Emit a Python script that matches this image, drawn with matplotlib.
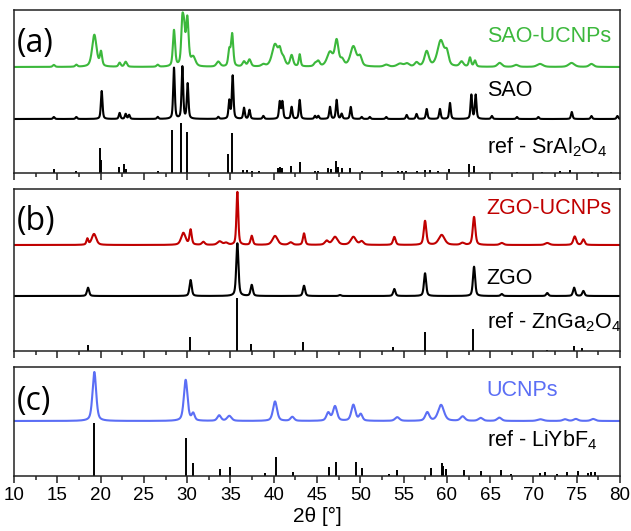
import numpy as np
import matplotlib.pyplot as plt
from matplotlib.ticker import MultipleLocator

plt.rcParams['font.family'] = ['Liberation Sans', 'DejaVu Sans']
plt.rcParams['mathtext.default'] = 'regular'

# ---- panel (a): SrAl2O4 ----
sao_ucnp_pos = [14.6, 17.2, 19.28, 20.05, 22.2, 22.9, 26.6, 28.48, 29.44, 29.64, 30.02, 30.7,
                33.6, 34.87, 35.2, 36.57, 37.2, 38.8, 40.15, 40.7, 41.1, 42.07, 43.0, 44.8,
                45.15, 46.5, 47.27, 47.9, 49.2, 49.97, 53.0, 54.6, 55.4, 56.5, 57.67, 59.3,
                60.0, 61.7, 62.67, 63.25, 66.1, 68.0, 70.76, 74.4, 76.7]
sao_ucnp_int = [2, 2, 32, 14, 4, 5, 2, 36, 40, 30, 47, 9,
                5, 16, 32, 5, 7, 2, 22, 12, 8, 11, 12, 3,
                5, 14, 25, 6, 20, 9, 2, 3, 3, 4, 15, 26,
                12, 5, 9, 6, 4, 2, 3, 4, 3]
sao_ucnp_fwhm = [0.3, 0.3, 0.6, 0.3, 0.3, 0.35, 0.3, 0.3, 0.3, 0.3, 0.35, 0.6,
                 0.5, 0.3, 0.3, 0.4, 0.4, 0.5, 0.8, 0.4, 0.5, 0.4, 0.25, 0.4,
                 0.4, 0.8, 0.5, 0.5, 0.8, 0.5, 0.6, 0.8, 0.6, 0.5, 0.6, 0.9,
                 0.5, 0.5, 0.3, 0.3, 0.6, 0.6, 0.8, 0.8, 0.6]

sao_pos = [14.6, 17.2, 20.13, 22.2, 22.9, 23.3, 26.6, 28.48, 29.45, 30.06, 33.6, 34.87,
           35.26, 36.57, 37.2, 38.8, 40.7, 41.0, 42.07, 43.0, 44.77, 45.15, 46.5, 47.27,
           47.85, 48.9, 50.16, 51.1, 53.0, 55.36, 56.5, 57.67, 59.2, 60.36, 62.83, 63.33,
           65.2, 68.1, 70.57, 74.43, 76.7, 79.7]
sao_int = [2, 2, 28, 6, 5, 4, 2, 51, 52, 35, 2, 18,
           43, 11, 9, 3, 17, 17, 12, 19, 3, 3, 12, 19,
           5, 12, 2, 2, 2, 4, 5, 10, 10, 16, 24, 24,
           3, 2, 2, 7, 3, 3]
sao_fwhm = 0.22

sral_pos = [14.6, 17.2, 19.93, 20.1, 22.13, 22.75, 22.9, 26.6, 28.29, 29.29, 29.95, 34.76,
            35.15, 36.5, 36.9, 37.5, 38.3, 40.5, 40.7, 40.85, 41.0, 42.0, 43.0, 44.77,
            45.1, 46.3, 46.6, 47.2, 47.4, 47.85, 48.8, 50.2, 52.5, 54.3, 54.8, 55.3,
            56.5, 57.5, 58.0, 59.0, 60.2, 62.6, 63.1, 65.2, 68.1, 71.0, 73.07, 74.2,
            76.8, 79.0]
sral_int = [3.7, 2.3, 25, 13, 6.3, 9, 4, 2, 43.5, 50, 41, 18.7,
            39.7, 3.5, 3.5, 2, 2, 5, 6, 4, 5, 7, 10.7, 2,
            2, 5, 4.3, 12, 6, 5, 5, 2, 2, 2, 2, 2,
            2, 3.5, 3, 2.5, 4, 8.7, 7, 1.5, 1.5, 1.5, 2, 3,
            1.5, 1.5]

# ---- panel (b): ZnGa2O4 ----
zgo_ucnp_pos = [18.47, 19.24, 29.56, 30.4, 31.87, 33.76, 34.5, 35.8, 37.46, 40.15, 41.96, 43.5,
                46.12, 47.08, 49.2, 50.16, 53.93, 57.48, 59.4, 61.8, 63.14, 66.34, 71.6, 74.77,
                75.77]
zgo_ucnp_int = [6, 11, 12, 15, 3, 3.5, 2, 53, 9, 9, 2.5, 11.5,
                4, 8, 8, 3.5, 8, 24, 10, 2, 28, 2, 2, 8.5,
                5.5]
zgo_ucnp_fwhm = [0.25, 0.6, 0.6, 0.3, 0.4, 0.6, 0.5, 0.25, 0.3, 0.7, 0.5, 0.3,
                 0.5, 0.7, 0.7, 0.5, 0.35, 0.35, 0.8, 0.5, 0.35, 0.5, 0.6, 0.4,
                 0.35]

zgo_pos = [18.55, 30.4, 35.8, 37.46, 43.5, 47.65, 53.93, 57.48, 63.14, 66.34, 71.6, 74.7, 75.77]
zgo_int = [8.3, 16, 52.7, 11, 10.3, 1, 7, 22.7, 29.3, 2, 3, 8.3, 5]
zgo_fwhm = 0.3

znga_pos = [18.5, 30.33, 35.74, 37.4, 43.4, 53.8, 57.48, 63.07, 71.6, 74.7, 75.6]
znga_int = [6, 14.3, 52.7, 7, 8.7, 4.3, 19.3, 21.7, 1.5, 5, 3.3]

# ---- panel (c): LiYbF4 ----
ucnp_pos = [19.28, 29.83, 30.7, 33.7, 34.87, 40.15, 42.15, 46.3, 47.08, 49.2, 50.05, 54.27,
            57.74, 59.33, 61.83, 63.9, 66.06, 70.8, 73.65, 74.9, 76.9]
ucnp_int = [49, 41, 7, 5.5, 5, 19.5, 4, 8, 14.5, 16, 6.5, 3.7,
            8.5, 16, 4.5, 3, 3.3, 1.7, 1.7, 2, 2]
ucnp_fwhm = [0.5, 0.5, 0.4, 0.5, 0.6, 0.55, 0.5, 0.5, 0.55, 0.55, 0.45, 0.6,
             0.55, 0.8, 0.6, 0.6, 0.6, 0.8, 0.6, 0.6, 0.6]

liybf_pos = [19.28, 29.83, 30.7, 33.83, 34.99, 39.03, 40.23, 42.27, 46.39, 47.2, 49.5, 50.24,
             53.36, 54.28, 58.13, 59.4, 59.6, 59.9, 61.98, 64.0, 66.2, 67.4, 70.76, 71.3,
             72.7, 73.84, 75.18, 76.3, 76.7, 77.1]
liybf_int = [52.7, 37.7, 13.3, 7.3, 8.7, 2.7, 18.7, 4.3, 8.7, 14, 13.7, 8.3,
             2.5, 5.7, 8.3, 12.7, 9.7, 7, 6.3, 5, 6, 2, 3, 4,
             2, 4.3, 5, 3, 3.7, 4.5]

green = '#3cb83c'
red = '#c00000'
blue = '#5b6ef5'

x = np.linspace(10, 80, 7001)


def pattern(pos, inten, fwhm):
    fwhm = np.broadcast_to(fwhm, np.shape(pos))
    y = np.zeros_like(x)
    for p, h, w in zip(pos, inten, fwhm):
        d = (x - p) / (w / 2)
        y += h * (0.5 / (1 + d ** 2) + 0.5 * np.exp(-np.log(2) * d ** 2))
    return y


fig = plt.figure(figsize=(6.31, 5.31), dpi=100)
W, H = 631, 531


def panel(top, bottom):
    ax = fig.add_axes([14 / W, 1 - bottom / H, 606 / W, (bottom - top) / H])
    ax.set_xlim(10, 80)
    ax.set_ylim(0, bottom - top)
    ax.set_yticks([])
    ax.xaxis.set_major_locator(MultipleLocator(5))
    ax.xaxis.set_minor_locator(MultipleLocator(2.5))
    ax.tick_params(axis='x', which='major', direction='out', length=5, width=1.1,
                   color='#222222', labelsize=13.5, pad=3)
    ax.tick_params(axis='x', which='minor', direction='out', length=3, width=1.1,
                   color='#222222')
    for s in ax.spines.values():
        s.set_linewidth(1.1)
        s.set_color('#222222')
    return ax


lab = dict(fontsize=15.5, ha='left', va='baseline')
letter = dict(fontsize=23, family=['Open Sans', 'DejaVu Sans'], ha='left', va='baseline')

# (a)
ax1 = panel(10, 173)
ax1.plot(x, 106 + pattern(sao_ucnp_pos, sao_ucnp_int, sao_ucnp_fwhm), color=green, lw=1.5)
ax1.plot(x, 54 + pattern(sao_pos, sao_int, sao_fwhm), color='black', lw=1.5)
ax1.vlines(sral_pos, 0, sral_int, color='black', lw=1.4)
ax1.text(10.3, 121, '(a)', **letter)
ax1.text(64.6, 131.5, 'SAO-UCNPs', color=green, **lab)
ax1.text(64.6, 76.5, 'SAO', color='black', **lab)
ax1.text(64.6, 20, 'ref - SrAl$_2$O$_4$', color='black', **lab)
ax1.tick_params(labelbottom=False)

# (b)
ax2 = panel(189, 351)
ax2.plot(x, 106 + pattern(zgo_ucnp_pos, zgo_ucnp_int, zgo_ucnp_fwhm), color=red, lw=1.5)
ax2.plot(x, 55 + pattern(zgo_pos, zgo_int, zgo_fwhm), color='black', lw=1.5)
ax2.vlines(znga_pos, 0, znga_int, color='black', lw=1.4)
ax2.text(10.3, 121, '(b)', **letter)
ax2.text(64.6, 136.5, 'ZGO-UCNPs', color=red, **lab)
ax2.text(64.6, 67.5, 'ZGO', color='black', **lab)
ax2.text(64.6, 22.5, 'ref - ZnGa$_2$O$_4$', color='black', **lab)
ax2.tick_params(labelbottom=False)

# (c)
ax3 = panel(367, 476)
ax3.plot(x, 55 + pattern(ucnp_pos, ucnp_int, ucnp_fwhm), color=blue, lw=1.5)
ax3.vlines(liybf_pos, 0, liybf_int, color='black', lw=1.4)
ax3.text(10.3, 66, '(c)', **letter)
ax3.text(64.6, 80, 'UCNPs', color=blue, **lab)
ax3.text(64.6, 30, 'ref - LiYbF$_4$', color='black', **lab)
ax3.set_xlabel('2θ [°]', fontsize=15, labelpad=2)

fig.savefig('out.png', dpi=100)
